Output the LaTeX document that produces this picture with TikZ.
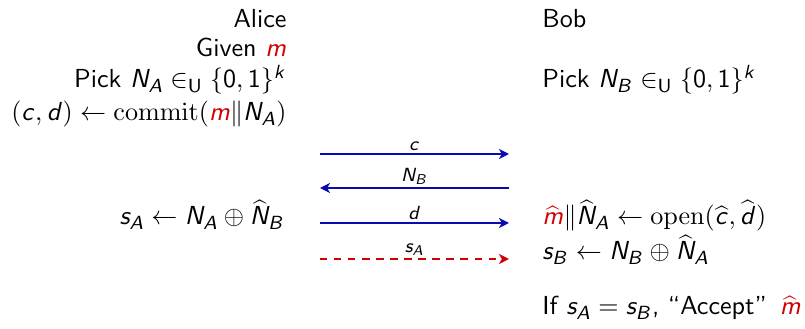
\documentclass[tikz,border=0pt]{standalone}
\usetikzlibrary{arrows.meta}
\DeclareSymbolFont{sfit}{OT1}{cmss}{m}{sl}
\DeclareSymbolFont{sfup}{OT1}{cmss}{m}{n}
\DeclareMathSymbol{m}{\mathalpha}{sfit}{`m}
\DeclareMathSymbol{c}{\mathalpha}{sfit}{`c}
\DeclareMathSymbol{d}{\mathalpha}{sfit}{`d}
\DeclareMathSymbol{s}{\mathalpha}{sfit}{`s}
\DeclareMathSymbol{k}{\mathalpha}{sfit}{`k}
\DeclareMathSymbol{N}{\mathalpha}{sfit}{`N}
\DeclareMathSymbol{A}{\mathalpha}{sfit}{`A}
\DeclareMathSymbol{B}{\mathalpha}{sfit}{`B}
\DeclareMathSymbol{0}{\mathalpha}{sfup}{`0}
\DeclareMathSymbol{1}{\mathalpha}{sfup}{`1}
\definecolor{msgblue}{RGB}{10,10,180}
\definecolor{alertred}{RGB}{210,0,0}
\newcommand{\Rm}{\textcolor{alertred}{m}}
\newcommand{\Rhm}{\textcolor{alertred}{\widehat{m}}}
\tikzset{
  txt/.style={inner sep=0pt, font=\sffamily\fontsize{10.95}{13.6}\selectfont},
  lcol/.style={txt, anchor=base east},
  rcol/.style={txt, anchor=base west},
  msg/.style={line width=1pt, msgblue, -{Stealth[length=4.2pt,width=4.2pt,inset=1.2pt]}},
  msgdash/.style={line width=1pt, alertred, dash pattern=on 3.1pt off 2.8pt, -{Stealth[length=4.2pt,width=4.2pt,inset=1.2pt]}},
  lbl/.style={inner sep=0.8pt, anchor=south, font=\sffamily\fontsize{8.5}{10}\selectfont, text=black}
}
\begin{document}
\begin{tikzpicture}[x=0.42pt,y=-0.42pt]
\useasboundingbox (0,0) rectangle (805,329);
% Alice column
\node[lcol] (alice) at (287,28) {Alice};
\node[lcol] (given) at (287,57) {Given $\Rm$};
\node[lcol] (picka) at (287,88) {Pick $N_A \in_{\mathsf{U}} \{0,1\}^k$};
\node[lcol] (commit) at (287,121) {$(c,d) \leftarrow \mathrm{commit}(\Rm \| N_A)$};
\node[lcol] (sa) at (285,225) {$s_A \leftarrow N_A \oplus \widehat{N}_B$};
% Bob column
\node[rcol] (bob) at (542,28) {Bob};
\node[rcol] (pickb) at (542,88) {Pick $N_B \in_{\mathsf{U}} \{0,1\}^k$};
\node[rcol] (open) at (542,225) {$\Rhm \| \widehat{N}_A \leftarrow \mathrm{open}(\widehat{c},\widehat{d})$};
\node[rcol] (sb) at (542,260) {$s_B \leftarrow N_B \oplus \widehat{N}_A$};
\node[rcol] (accept) at (542,315) {If $s_A = s_B$, “Accept”\hspace{5.5pt}$\Rhm$};
% messages
\coordinate (c1) at (320,154); \coordinate (c2) at (509,154);
\coordinate (n1) at (320,188); \coordinate (n2) at (509,188);
\coordinate (d1) at (320,223); \coordinate (d2) at (509,223);
\coordinate (s1) at (320,259); \coordinate (s2) at (509,259);
\draw[msg] (c1) -- (c2) node[lbl, midway] (lc) {$c$};
\draw[msg] (n2) -- (n1) node[lbl, midway] (ln) {$N_B$};
\draw[msg] (d1) -- (d2) node[lbl, midway] (ld) {$d$};
\draw[msgdash] (s1) -- (s2) node[lbl, midway] (ls) {$s_A$};
\end{tikzpicture}
\end{document}
